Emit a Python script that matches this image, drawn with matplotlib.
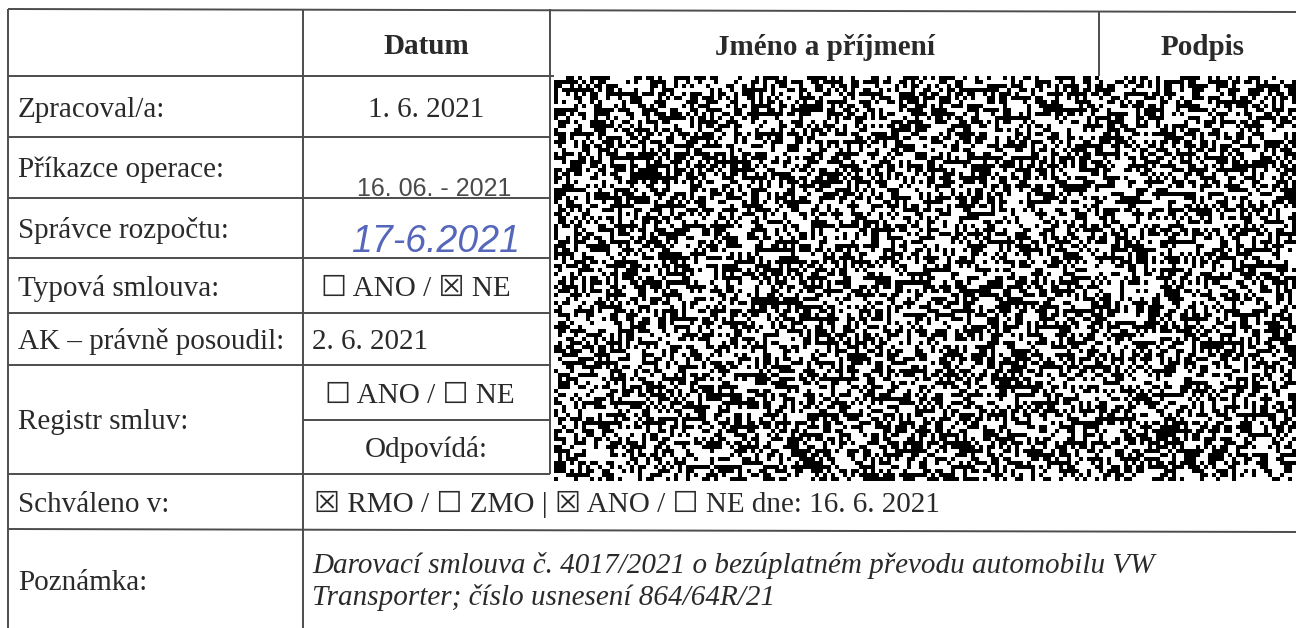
import matplotlib
matplotlib.use("Agg")
import matplotlib.pyplot as plt
import numpy as np

# ---- table content ----
headers = ["Datum", "Jméno a příjmení", "Podpis"]
row_labels = ["Zpracoval/a:", "Příkazce operace:", "Správce rozpočtu:",
              "Typová smlouva:", "AK – právně posoudil:", "Registr smluv:",
              "Schváleno v:", "Poznámka:"]
date_zpracoval = "1. 6. 2021"
stamp_prikazce = "16. 06. - 2021"
hand_spravce = "17-6.2021"
typova = "☐ ANO / ☒ NE"
ak_date = "2. 6. 2021"
registr = ["☐ ANO / ☐ NE", "Odpovídá:"]
schvaleno = "☒ RMO / ☐ ZMO | ☒ ANO / ☐ NE dne: 16. 6. 2021"
poznamka = ["Darovací smlouva č. 4017/2021 o bezúplatném převodu automobilu VW",
            "Transporter; číslo usnesení 864/64R/21"]

# ---- layout (pixels) ----
W, H = 1296, 628
x_left, x_c1, x_c2, x_c3 = 8, 303, 550, 1099
y_top = 9
row_lines = [76, 137, 198, 258, 313, 365, 474, 529]
y_reg_mid = 420
label_base = [117, 177, 238, 296, 349, 429, 512, 590]
noise_box = (554, 1296, 76, 481)

FS = 21
serif = ["Liberation Serif", "DejaVu Sans"]
tc = "#2a2a2a"
lc = "#4d4d4d"
lw = 1.4

fig = plt.figure(figsize=(W / 100, H / 100), dpi=100)
ax = fig.add_axes([0, 0, 1, 1])
ax.set_xlim(0, W)
ax.set_ylim(H, 0)
ax.axis("off")

def line(x0, y0, x1, y1):
    ax.plot([x0, x1], [y0, y1], color=lc, lw=lw, solid_capstyle="butt")

# grid
line(x_left, y_top, W, y_top + 3)
line(x_left, y_top, x_left, H)
line(x_c1, y_top, x_c1, H)
line(x_c2, y_top, x_c2, row_lines[6])
line(x_c3, y_top + 2, x_c3, row_lines[0])
line(x_left, row_lines[0], noise_box[0], row_lines[0])
for y in row_lines[1:7]:
    line(x_left, y, x_c2, y)
line(x_c1, y_reg_mid, x_c2, y_reg_mid)
line(x_left, row_lines[7], W, row_lines[7] + 3)

# redaction texture (not data), blocky black/white pattern
rng = np.random.default_rng(7)
nx0, nx1, ny0, ny1 = noise_box
cells = rng.random(((ny1 - ny0) // 4, (nx1 - nx0) // 4)) > 0.5
ax.imshow(cells, cmap="gray", interpolation="nearest", aspect="auto",
          extent=(nx0, nx1, ny1, ny0), zorder=3)

# headers
ax.text((x_c1 + x_c2) / 2, 54, headers[0], ha="center", va="baseline",
        fontsize=FS, family=serif, weight="bold", color=tc)
ax.text(825, 55, headers[1], ha="center", va="baseline",
        fontsize=FS, family=serif, weight="bold", color=tc)
ax.text(1203, 55, headers[2], ha="center", va="baseline",
        fontsize=FS, family=serif, weight="bold", color=tc)

# left labels
for lab, yb in zip(row_labels, label_base):
    ax.text(18, yb, lab, ha="left", va="baseline", fontsize=FS,
            family=serif, color=tc)

cx = (x_c1 + x_c2) / 2
ax.text(cx, 117, date_zpracoval, ha="center", va="baseline", fontsize=FS,
        family=serif, color=tc)
ax.text(434, 196, stamp_prikazce, ha="center", va="baseline", fontsize=18,
        family=["Liberation Sans", "DejaVu Sans"], color="#4a4a4a")
ax.text(436, 252, hand_spravce, ha="center", va="baseline", fontsize=27,
        family=["Liberation Sans", "DejaVu Sans"], style="italic",
        color="#5566bb")
ax.text(416, 296, typova, ha="center", va="baseline", fontsize=FS,
        family=serif, color=tc)
ax.text(312, 349, ak_date, ha="left", va="baseline", fontsize=FS,
        family=serif, color=tc)
ax.text(420, 403, registr[0], ha="center", va="baseline", fontsize=FS,
        family=serif, color=tc)
ax.text(cx, 457, registr[1], ha="center", va="baseline", fontsize=FS,
        family=serif, color=tc)
ax.text(314, 512, schvaleno, ha="left", va="baseline", fontsize=FS,
        family=serif, color=tc)
for txt, yb in zip(poznamka, [573, 605]):
    ax.text(312, yb, txt, ha="left", va="baseline", fontsize=FS,
            family=serif, style="italic", color=tc)

fig.savefig("out.png", dpi=100, facecolor="white")
